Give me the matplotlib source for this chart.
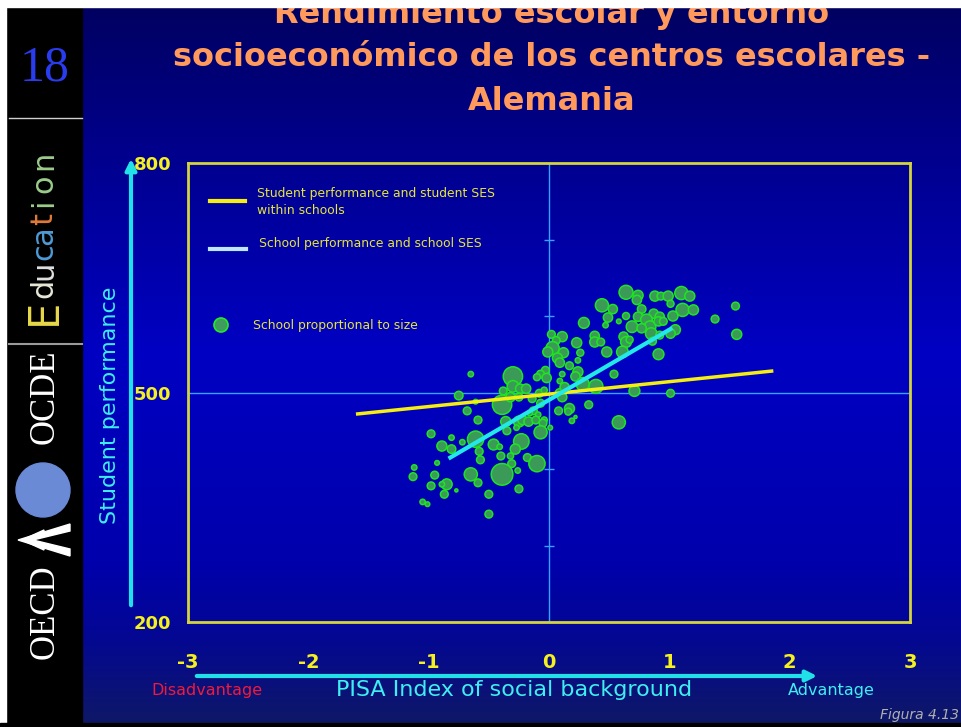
import numpy as np
import matplotlib.pyplot as plt
from matplotlib.patches import Rectangle, Circle, Polygon

# Datos: índice socioeconómico de la escuela, rendimiento medio y tamaño relativo
ses = [0.64, 0.74, 0.73, 0.88, 0.93, 0.99, 1.10, 1.17, 1.01, 1.11,
       1.20, 0.44, 0.53, 0.49, 0.64, 0.77, 0.74, 0.87, 0.92, 1.03,
       0.29, 0.47, 0.58, 0.69, 0.81, 0.84, 0.91, 0.95, 1.05, 1.01,
       0.77, 0.85, 0.92, 1.38, 1.55, 1.56, 0.02, 0.11, 0.06, 0.03,
       -0.01, 0.12, 0.23, 0.26, 0.38, 0.38, 0.43, 0.62, 0.64, 0.67,
       0.61, 0.48, 0.86, 0.91, 0.07, 0.09, 0.24, 0.17, -0.03, -0.07,
       -0.10, -0.02, 0.11, 0.09, 0.24, 0.22, 0.28, 0.39, 0.54, -0.30,
       -0.30, -0.24, -0.19, -0.38, -0.08, -0.04, 0.09, 0.11, 0.13, 0.71,
       1.01, -0.65, -0.75, -0.61, -0.39, -0.32, -0.25, -0.14, -0.07, -0.13,
       -0.16, -0.09, -0.68, -0.59, -0.36, -0.25, -0.22, -0.17, -0.11, -0.04,
       -0.05, -0.27, 0.08, 0.17, 0.16, 0.19, 0.22, 0.33, 0.58, 0.01,
       -0.07, -0.35, -0.98, -0.81, -0.89, -0.81, -0.72, -0.61, -0.46, -0.41,
       -0.23, -0.28, -0.58, -0.40, -0.32, -0.57, -0.93, -0.18, -0.10, -0.31,
       -0.26, -0.39, -0.65, -1.12, -1.13, -0.95, -0.85, -0.89, -0.98, -0.59,
       -0.25, -0.77, -0.87, -0.50, -1.05, -1.01, -0.50]

perf = [631, 627, 621, 626, 626, 626, 630, 626, 616, 608,
        608, 614, 609, 598, 600, 609, 599, 603, 599, 600,
        591, 588, 593, 586, 595, 586, 593, 593, 582, 577,
        584, 577, 575, 596, 613, 576, 576, 573, 568, 558,
        553, 552, 565, 552, 574, 566, 566, 573, 566, 569,
        553, 553, 567, 550, 545, 539, 542, 535, 529, 524,
        520, 519, 524, 515, 527, 521, 511, 508, 524, 521,
        508, 505, 505, 502, 499, 503, 499, 494, 507, 502,
        499, 524, 496, 488, 484, 494, 494, 492, 486, 476,
        473, 471, 476, 464, 462, 462, 464, 462, 464, 464,
        460, 454, 476, 479, 475, 463, 468, 484, 461, 454,
        448, 450, 446, 441, 430, 426, 435, 439, 432, 429,
        436, 426, 423, 417, 417, 412, 408, 415, 407, 407,
        398, 393, 393, 402, 390, 392, 380, 380, 378, 382,
        374, 372, 367, 367, 357, 354, 341]

school_size = [324, 169, 144, 169, 100, 169, 289, 169, 81, 289,
               169, 289, 144, 144, 81, 121, 144, 144, 144, 169,
               196, 49, 36, 225, 225, 225, 144, 100, 169, 144,
               144, 225, 100, 100, 100, 169, 100, 169, 100, 289,
               169, 169, 169, 81, 144, 169, 100, 144, 196, 81,
               225, 169, 100, 196, 169, 144, 49, 100, 100, 100,
               81, 144, 49, 49, 169, 144, 289, 324, 100, 625,
               225, 144, 144, 100, 100, 64, 144, 144, 144, 196,
               100, 49, 121, 36, 625, 144, 100, 100, 100, 100,
               49, 49, 100, 100, 169, 196, 144, 144, 100, 64,
               100, 49, 100, 169, 81, 49, 16, 100, 289, 36,
               289, 100, 100, 49, 169, 121, 49, 441, 196, 49,
               400, 169, 100, 100, 64, 100, 36, 100, 441, 100,
               49, 784, 289, 49, 100, 100, 196, 49, 100, 100,
               100, 16, 100, 100, 49, 36, 100]

# Rectas de regresión
within_x = [-1.59, 1.85]
within_y = [472, 528]
between_x = [-0.82, 1.01]
between_y = [415, 583]

x_ticks = [-3, -2, -1, 0, 1, 2, 3]
y_ticks = [200, 500, 800]
center_ticks = [300, 400, 600, 700]

W, H = 962, 727
fig = plt.figure(figsize=(W / 100, H / 100), dpi=100)

# Fondo de la diapositiva (coordenadas en píxeles)
bg = fig.add_axes([0, 0, 1, 1])
bg.set_xlim(0, W)
bg.set_ylim(H, 0)
bg.axis('off')

stop_y = [0, 150, 350, 560, 640, 727]
stop_r = [0, 0, 0, 0, 4, 15]
stop_g = [0, 0, 0, 0, 8, 25]
stop_b = [95, 140, 195, 172, 145, 100]
yy = np.arange(H)
grad = np.stack([np.interp(yy, stop_y, stop_r),
                 np.interp(yy, stop_y, stop_g),
                 np.interp(yy, stop_y, stop_b)], axis=1) / 255.0
bg.imshow(grad[:, None, :], extent=(0, W, H, 0), aspect='auto', zorder=0)

# Barra lateral
bg.add_patch(Rectangle((6, 7), 76, H, color='black', zorder=1))
bg.plot([9, 82], [118, 118], color='#cfcfcf', lw=1, zorder=2)
bg.plot([9, 82], [344, 344], color='#9a9a9a', lw=1.5, zorder=2)
bg.text(45, 68, '18', color='#2a3cf0', fontsize=36, family='Liberation Serif',
        ha='center', va='center', zorder=3)

letters = ['E', 'd', 'u', 'c', 'a', 't', 'i', 'o', 'n']
letter_y = [312, 288, 270, 252, 236, 219, 203, 184, 160]
letter_c = ['#e8d84a', '#e8e8d8', '#e0e0e0', '#4f9ad6', '#4f9ad6',
            '#e07a3a', '#9ccc8c', '#9ccc8c', '#9ccc8c']
for ch, ly, lc in zip(letters, letter_y, letter_c):
    bg.text(44, ly, ch, color=lc, fontsize=30 if ch == 'E' else 22,
            rotation=90, ha='center', va='center', zorder=3)

bg.text(45, 397, 'OCDE', color='white', fontsize=25, family='Liberation Serif',
        rotation=90, ha='center', va='center', zorder=3)
bg.add_patch(Circle((43, 490), 27, color='#6a8ad6', zorder=3))
bg.add_patch(Polygon([[70, 524], [70, 531], [33, 540], [70, 549], [70, 556], [18, 540]],
                     color='white', zorder=3))
bg.add_patch(Polygon([[44, 530], [44, 536], [30, 540], [44, 544], [44, 550], [22, 540]],
                     color='white', zorder=3))
bg.text(45, 612, 'OECD', color='white', fontsize=25, family='Liberation Serif',
        rotation=90, ha='center', va='center', zorder=3)

# Título
title_lines = ['Rendimiento escolar y entorno',
               'socioeconómico de los centros escolares -',
               'Alemania']
for i, line in enumerate(title_lines):
    bg.text(552, 14 + 44 * i, line, color='#ff9a5c', fontsize=23,
            fontweight='bold', ha='center', va='center', zorder=3)

bg.add_patch(Rectangle((0, 0), W, 7, color='white', zorder=5))
bg.add_patch(Rectangle((0, 0), 6, H, color='white', zorder=5))

# Flechas y etiquetas de los ejes
bg.annotate('', xy=(131, 156), xytext=(131, 608),
            arrowprops=dict(arrowstyle='-|>', color='#22e0e8', lw=3, mutation_scale=16),
            zorder=3)
bg.annotate('', xy=(820, 676), xytext=(194, 676),
            arrowprops=dict(arrowstyle='-|>', color='#22e0e8', lw=3, mutation_scale=16),
            zorder=3)
bg.text(110, 405, 'Student performance', color='#3eeef0', fontsize=16,
        rotation=90, ha='center', va='center', zorder=3)
bg.text(514, 690, 'PISA Index of social background', color='#3eeef0', fontsize=16,
        ha='center', va='center', zorder=3)
bg.text(207, 691, 'Disadvantage', color='#f01a3c', fontsize=11.5,
        ha='center', va='center', zorder=3)
bg.text(831, 691, 'Advantage', color='#3eeef0', fontsize=11.5,
        ha='center', va='center', zorder=3)
bg.text(880, 719, 'Figura 4.13', color='#b0b0b0', fontsize=10, style='italic',
        ha='left', va='baseline', zorder=3)
bg.add_patch(Rectangle((0, 723), W, 4, color='black', zorder=5))

# Leyenda manual
bg.plot([210, 245], [201, 201], color='#f5ee10', lw=3, zorder=3)
bg.text(257, 202, 'Student performance and student SES\nwithin schools',
        color='#e6e63a', fontsize=8.9, linespacing=1.3, ha='left', va='center', zorder=3)
bg.plot([210, 246], [249, 249], color='#bfe6ff', lw=3, zorder=3)
bg.text(259, 243, 'School performance and school SES', color='#e6e63a',
        fontsize=8.9, ha='left', va='center', zorder=3)
bg.add_patch(Circle((221, 325), 7, facecolor='#3f9b5e', edgecolor='#22ee22',
                    lw=1.2, zorder=3))
bg.text(253, 325, 'School proportional to size', color='#e6e63a',
        fontsize=8.9, ha='left', va='center', zorder=3)

# Gráfico de dispersión
ax = fig.add_axes([188 / W, 1 - 622 / H, 722 / W, 459 / H])
ax.patch.set_alpha(0)
ax.set_xlim(-3, 3)
ax.set_ylim(200, 800)

ax.axvline(0, color='#3aa0ff', lw=1, zorder=1)
ax.axhline(500, color='#3aa0ff', lw=1, zorder=1)
ax.hlines(center_ticks, -0.045, 0.045, color='#3aa0ff', lw=1, zorder=1)

ax.scatter(ses, perf, s=np.array(school_size) * 0.31, facecolor='#3c9a58',
           edgecolor='#1ee61e', linewidth=1.1, zorder=2)
ax.plot(within_x, within_y, color='#f5ee10', lw=2.5, zorder=3)
ax.plot(between_x, between_y, color='#22e8e8', lw=3, zorder=4)

for sp in ax.spines.values():
    sp.set_color('#d4d43c')
    sp.set_linewidth(2)

ax.set_xticks(x_ticks)
ax.set_xticklabels([str(v) for v in x_ticks])
ax.set_yticks(y_ticks)
ax.set_yticklabels([str(v) for v in y_ticks])
ax.tick_params(axis='x', length=0, pad=22, labelsize=14, labelcolor='#f5f020')
ax.tick_params(axis='y', length=0, pad=12, labelsize=13, labelcolor='#f5f020')
for lab in ax.get_xticklabels() + ax.get_yticklabels():
    lab.set_fontweight('bold')

plt.savefig('out.png', dpi=100)
plt.close()
